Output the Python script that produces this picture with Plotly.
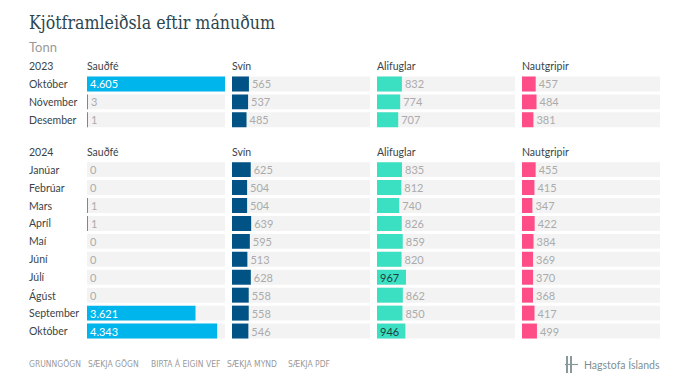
import plotly.graph_objects as go

# ---------------- data ----------------
series_names = ["Sauðfé", "Svín", "Alifuglar", "Nautgripir"]
months_2023 = ["Október", "Nóvember", "Desember"]
months_2024 = ["Janúar", "Febrúar", "Mars", "Apríl", "Maí", "Júní",
               "Júlí", "Ágúst", "September", "Október"]

saudfe_2023 = [4605, 3, 1]
svin_2023 = [565, 537, 485]
alifuglar_2023 = [832, 774, 707]
nautgripir_2023 = [457, 484, 381]

saudfe_2024 = [0, 0, 1, 1, 0, 0, 0, 0, 3621, 4343]
svin_2024 = [625, 504, 504, 639, 595, 513, 628, 558, 558, 546]
alifuglar_2024 = [835, 812, 740, 826, 859, 820, 967, 862, 850, 946]
nautgripir_2024 = [455, 415, 347, 422, 384, 369, 370, 368, 417, 499]

footer_links = ["GRUNNGÖGN", "SÆKJA GÖGN", "BIRTA Á EIGIN VEF", "SÆKJA MYND", "SÆKJA PDF"]

# ---------------- style ----------------
colors = ["#00b5eb", "#005384", "#3be0c2", "#ff4d87"]
inside_text_colors = ["#ffffff", "#ffffff", "#1f3f3f", "#ffffff"]
bg_color = "#f3f3f3"
font_family = "Lato, 'Open Sans', sans-serif"

years = [
    ("2023", months_2023, [saudfe_2023, svin_2023, alifuglar_2023, nautgripir_2023], "y"),
    ("2024", months_2024, [saudfe_2024, svin_2024, alifuglar_2024, nautgripir_2024], "y2"),
]
xmax = max(max(v) for _, _, s, _ in years for v in s)

def fmt(v):
    return f"{v:,}".replace(",", ".")

OFF = 8  # page body margin
W, H = 696 - 2 * OFF, 391 - 2 * OFF
ml, mt = 87 - OFF, 74.5 - OFF
mr = W - (660 - OFF)
mb = H - (340.5 - OFF)
plot_w = W - ml - mr
plot_h = H - mt - mb
col_w, gap = 138, 7
bar_w = 15 / 18
PAD = 2  # annotation inner padding

fig = go.Figure()
xaxes = ["x", "x2", "x3", "x4"]

for year, months, series, yax in years:
    for ci, vals in enumerate(series):
        fig.add_trace(go.Bar(
            y=months, x=[xmax] * len(months), orientation="h",
            xaxis=xaxes[ci], yaxis=yax, marker=dict(color=bg_color, line=dict(width=0)),
            width=bar_w, hoverinfo="skip", showlegend=False))
        pos = ["inside" if v / xmax * col_w > 26 else "outside" for v in vals]
        fig.add_trace(go.Bar(
            y=months, x=vals, orientation="h",
            xaxis=xaxes[ci], yaxis=yax,
            marker=dict(color=colors[ci], line=dict(width=0)),
            width=bar_w, text=[fmt(v) for v in vals], textposition=pos,
            insidetextanchor="start", constraintext="none", cliponaxis=False,
            insidetextfont=dict(color=inside_text_colors[ci], size=11, family=font_family),
            outsidetextfont=dict(color="#ababab", size=11, family=font_family),
            showlegend=False, name=series_names[ci]))

layout = dict(
    width=W, height=H, barmode="overlay",
    margin=dict(l=ml, r=mr, t=mt, b=mb, pad=0),
    paper_bgcolor="white", plot_bgcolor="white",
    font=dict(family=font_family, color="#333"),
)
for ci in range(4):
    start = ci * (col_w + gap) / plot_w
    end = (ci * (col_w + gap) + col_w) / plot_w
    key = "xaxis" if ci == 0 else f"xaxis{ci + 1}"
    layout[key] = dict(domain=[start, end], range=[0, xmax], visible=False,
                       anchor="y2", fixedrange=True)

h23 = len(months_2023) * 18
h24 = len(months_2024) * 18
layout["yaxis"] = dict(domain=[1 - h23 / plot_h, 1], visible=False,
                       range=[len(months_2023) - 0.5, -0.5], anchor="x",
                       categoryorder="array", categoryarray=months_2023)
layout["yaxis2"] = dict(domain=[0, h24 / plot_h], visible=False,
                        range=[len(months_2024) - 0.5, -0.5], anchor="x",
                        categoryorder="array", categoryarray=months_2024)
fig.update_layout(**layout)

ann = []
label_font = dict(family=font_family, size=10.5, color="#3a4448")
for year, months, series, yax in years:
    for m in months:
        ann.append(dict(xref="paper", yref=yax, x=0, y=m, xshift=-58 - PAD, xanchor="left",
                        yanchor="middle", text=m, showarrow=False, font=label_font))
    ydom = yax + " domain"
    ann.append(dict(xref="paper", yref=ydom, x=0, y=1, xshift=-58 - PAD, yshift=9,
                    xanchor="left", yanchor="middle", text=year, showarrow=False,
                    font=dict(family=font_family, size=10.5, color="#3a4448")))
    for ci, name in enumerate(series_names):
        ann.append(dict(xref=xaxes[ci] + " domain", yref=ydom, x=0, y=1, xshift=-PAD,
                        yshift=9, xanchor="left", yanchor="middle", text=name,
                        showarrow=False,
                        font=dict(family=font_family, size=10.5, color="#3a4448")))

ann.append(dict(xref="paper", yref="paper", x=0, y=1, xshift=-58 - PAD, yshift=52,
                xanchor="left", yanchor="middle", text="Kjötframleiðsla eftir mánuðum",
                showarrow=False,
                font=dict(family="'DejaVu Serif Condensed', 'DejaVu Serif'", size=17.6,
                          color="#2c4650")))
ann.append(dict(xref="paper", yref="paper", x=0, y=1, xshift=-58 - PAD, yshift=28.5,
                xanchor="left", yanchor="middle", text="Tonn",
                showarrow=False, font=dict(family=font_family, size=13, color="#9a9a9a")))

link_x = [29, 88, 151, 227, 288]
for lx, t in zip(link_x, footer_links):
    ann.append(dict(xref="paper", yref="paper", x=0, y=0, xshift=lx - 87 - PAD, yshift=-23.5,
                    xanchor="left", yanchor="middle", text=t, showarrow=False,
                    font=dict(family="'Liberation Sans Narrow', 'DejaVu Sans Condensed', sans-serif",
                              size=8.5, color="#9a9a9a")))
ann.append(dict(xref="paper", yref="paper", x=1, y=0, xshift=PAD, yshift=-24,
                xanchor="right", yanchor="middle", text="Hagstofa Íslands", showarrow=False,
                font=dict(family=font_family, size=10.5, color="#7f8f8f")))
fig.update_layout(annotations=ann)

# logo icon
icon_col = "#8a9a9a"
shapes = []
for x0, x1 in [(-94, -92), (-90, -88)]:
    shapes.append(dict(type="rect", xref="paper", yref="paper", xsizemode="pixel",
                       ysizemode="pixel", xanchor=1, yanchor=0, x0=x0, x1=x1,
                       y0=-16, y1=-33, fillcolor=icon_col, line=dict(width=0)))
shapes.append(dict(type="line", xref="paper", yref="paper", xsizemode="pixel",
                   ysizemode="pixel", xanchor=1, yanchor=0, x0=-95, x1=-82,
                   y0=-24.5, y1=-24.5, line=dict(color=icon_col, width=1.2)))
fig.update_layout(shapes=shapes)

fig.write_html("out.html")
